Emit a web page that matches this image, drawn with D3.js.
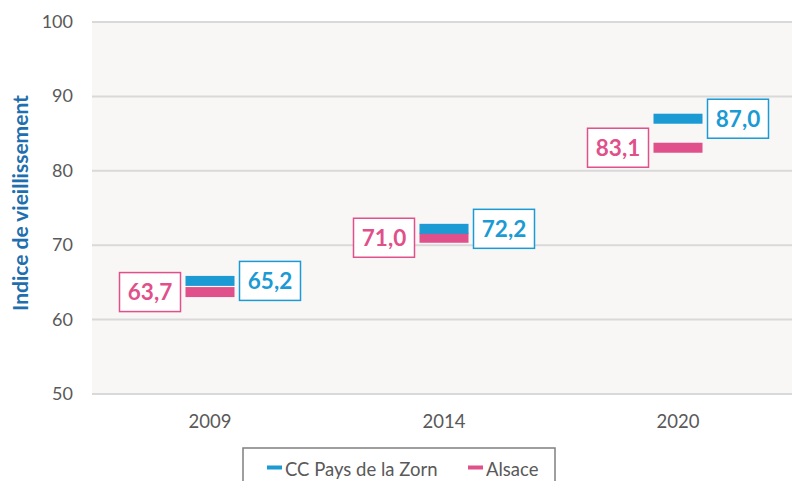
<!DOCTYPE html>
<html>
<head>
<meta charset="utf-8">
<script src="https://cdn.jsdelivr.net/npm/d3@7"></script>
<style>
  body { margin: 0; background: #fff; }
  svg { display: block; }
</style>
</head>
<body>
<svg id="chart" width="792" height="481"></svg>
<script>
// valeurs
var years = ["2009", "2014", "2020"]
var zorn = [65.2, 72.2, 87.0]
var alsace = [63.7, 71.0, 83.1]
var yTicks = [50, 60, 70, 80, 90, 100]

var blue = "#1b9ad4"
var pink = "#e0508a"
var font = "Lato, 'Open Sans', sans-serif"

var svg = d3.select("#chart")
var plotL = 92, plotR = 795, plotT = 22, plotB = 394

var x = d3.scaleBand().domain(years).range([plotL + 1, plotR])
var y = d3.scaleLinear().domain([50, 100]).range([plotB, plotT])

// fond de la zone de tracé
svg.append("rect")
    .attr("x", plotL).attr("y", plotT)
    .attr("width", 792 - plotL).attr("height", plotB - plotT)
    .attr("fill", "#f8f7f6")

// grille
svg.selectAll("line.grid")
    .data(yTicks)
    .enter()
    .append("line")
    .attr("class", "grid")
    .attr("x1", plotL).attr("x2", 792)
    .attr("y1", d => y(d)).attr("y2", d => y(d))
    .attr("stroke", "#d9d9d9")
    .attr("stroke-width", 2)

// axe y
var yAxis = svg.append("g")
    .attr("transform", "translate(" + (plotL - 19) + ",0)")
    .call(d3.axisLeft(y).tickValues(yTicks).tickSize(0).tickPadding(0))
yAxis.select(".domain").remove()
yAxis.selectAll("text")
    .attr("fill", "#595959")
    .attr("dy", "0.3em")
    .style("font-family", font)
    .style("font-size", "18px")

// axe x
var xAxis = svg.append("g")
    .attr("transform", "translate(0," + plotB + ")")
    .call(d3.axisBottom(x).tickSize(0).tickPadding(21))
xAxis.select(".domain").remove()
xAxis.selectAll("text")
    .attr("fill", "#595959")
    .style("font-family", font)
    .style("font-size", "18.5px")

// titre axe y
svg.append("text")
    .attr("transform", "translate(28,203) rotate(-90)")
    .attr("text-anchor", "middle")
    .attr("fill", "#1f6fae")
    .style("font-family", font)
    .style("font-weight", "bold")
    .style("font-size", "21px")
    .text("Indice de vieillissement")

var mw = 49, mh = 10

// marqueurs Alsace puis CC (CC au-dessus)
var series = [
    {name: "Alsace", values: alsace, color: pink, side: -1},
    {name: "CC Pays de la Zorn", values: zorn, color: blue, side: 1}
]

series.forEach(function (s) {
    svg.selectAll(null)
        .data(s.values)
        .enter()
        .append("rect")
        .attr("x", (d, i) => x(years[i]) + x.bandwidth() / 2 - mw / 2)
        .attr("y", d => y(d) - mh / 2)
        .attr("width", mw)
        .attr("height", mh)
        .attr("fill", s.color)
})

// étiquettes encadrées
var bw = 61, bh = 39
series.forEach(function (s) {
    var g = svg.selectAll(null)
        .data(s.values)
        .enter()
        .append("g")
        .attr("transform", function (d, i) {
            var cx = x(years[i]) + x.bandwidth() / 2
            var bx = s.side > 0 ? cx + mw / 2 + 5 : cx - mw / 2 - 5 - bw
            return "translate(" + bx + "," + (y(d) - bh / 2) + ")"
        })
    g.append("rect")
        .attr("width", bw).attr("height", bh)
        .attr("fill", "#fff")
        .attr("stroke", s.color)
        .attr("stroke-width", 1.5)
    g.append("text")
        .attr("x", bw / 2).attr("y", bh / 2 + 8)
        .attr("text-anchor", "middle")
        .attr("fill", s.color)
        .style("font-family", font)
        .style("font-weight", "bold")
        .style("font-size", "22.5px")
        .text(d => d.toFixed(1).replace(".", ","))
})

// légende
svg.append("rect")
    .attr("x", 243).attr("y", 448)
    .attr("width", 312).attr("height", 40)
    .attr("fill", "#fff")
    .attr("stroke", "#7f7f7f")
    .attr("stroke-width", 1.5)

var legend = [
    {label: "CC Pays de la Zorn", color: blue, x: 267},
    {label: "Alsace", color: pink, x: 468}
]
var lg = svg.selectAll("g.leg")
    .data(legend)
    .enter()
    .append("g")
    .attr("class", "leg")
    .attr("transform", d => "translate(" + d.x + ",467.5)")
lg.append("rect")
    .attr("x", 0).attr("y", -2)
    .attr("width", 15).attr("height", 4)
    .attr("fill", d => d.color)
lg.append("text")
    .attr("x", 18).attr("y", 8.5)
    .attr("fill", "#595959")
    .style("font-family", font)
    .style("font-size", "18.5px")
    .text(d => d.label)
</script>
</body>
</html>
